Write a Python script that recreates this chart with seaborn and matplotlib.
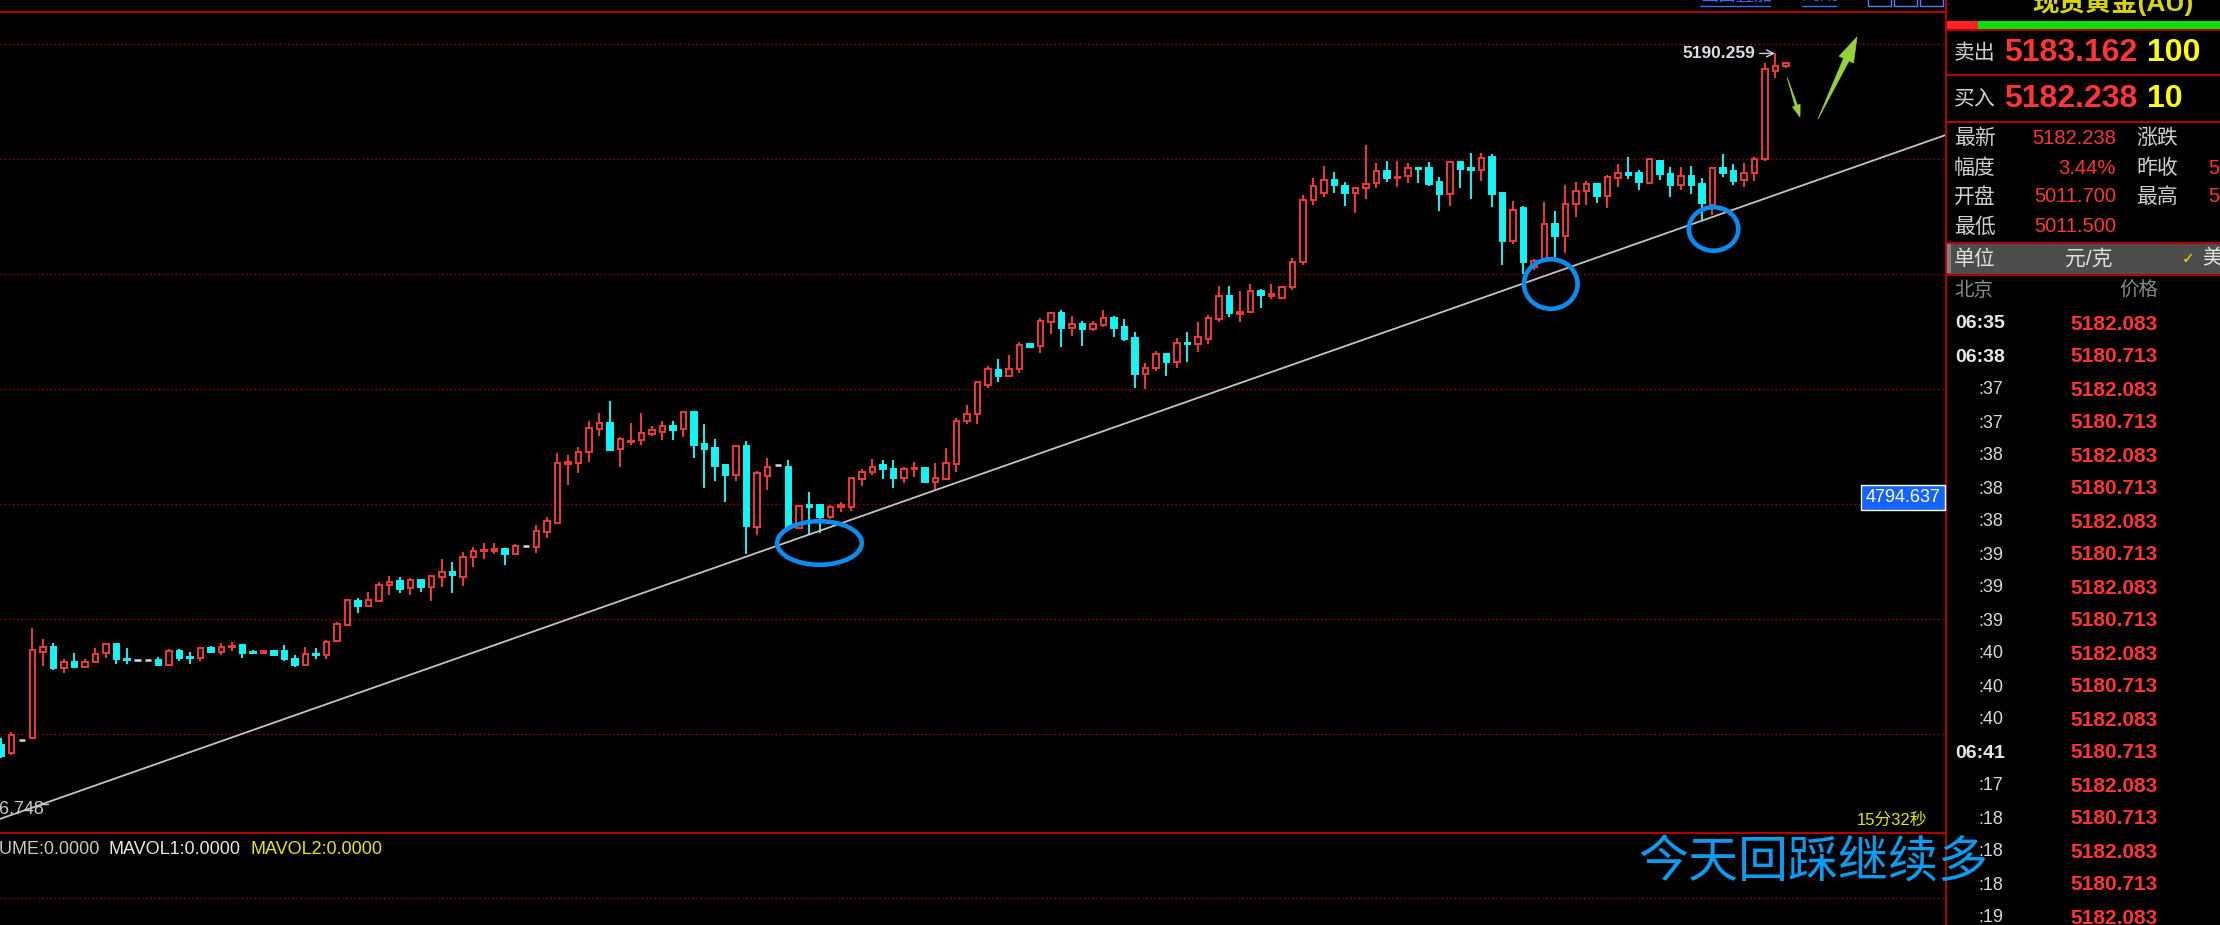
import numpy as np
import pandas as pd
import matplotlib
matplotlib.use("Agg")
import matplotlib.pyplot as plt
import seaborn as sns
from matplotlib.patches import Ellipse, Rectangle, Polygon

# ---------------- data ----------------
opens = [4583.0, 4576.0, 4587.4, 4589.2, 4664.7, 4669.1, 4650.7, 4655.9, 4651.5, 4655.9,
         4663.8, 4671.7, 4658.5, 4657.7, 4657.7, 4657.7, 4653.3, 4665.6, 4660.3, 4659.4,
         4668.2, 4664.7, 4669.1, 4670.8, 4664.7, 4663.8, 4665.6, 4665.6, 4658.5, 4653.3,
         4662.9, 4662.1, 4674.4, 4688.4, 4709.5, 4705.1, 4709.5, 4723.5, 4727.0, 4720.9,
         4727.9, 4721.8, 4730.5, 4734.9, 4730.5, 4748.1, 4753.4, 4753.4, 4755.1, 4750.7,
         4757.8, 4756.9, 4770.0, 4778.0, 4829.7, 4830.6, 4840.3, 4860.5, 4865.8, 4842.9,
         4849.1, 4850.8, 4856.1, 4857.9, 4863.2, 4860.5, 4875.4, 4847.3, 4843.8, 4828.9,
         4820.1, 4845.6, 4774.5, 4819.2, 4828.9, 4827.1, 4773.6, 4793.8, 4793.8, 4783.2,
         4792.0, 4792.0, 4816.6, 4822.8, 4828.9, 4825.3, 4817.5, 4825.3, 4826.3, 4813.9,
         4816.6, 4829.7, 4867.5, 4873.6, 4899.1, 4912.3, 4907.0, 4913.2, 4935.2, 4933.4,
         4954.4, 4962.3, 4949.1, 4952.7, 4948.3, 4951.8, 4958.0, 4950.0, 4940.4, 4908.8,
         4914.1, 4926.4, 4919.4, 4936.0, 4935.2, 4939.6, 4957.1, 4977.3, 4961.5, 4963.2,
         4981.6, 4977.3, 4975.5, 4985.1, 5007.1, 5061.6, 5067.6, 5079.1, 5073.8, 5067.6,
         5072.1, 5076.5, 5087.0, 5080.8, 5082.6, 5089.6, 5089.6, 5077.4, 5066.8, 5094.9,
         5089.6, 5087.9, 5099.3, 5067.6, 5025.6, 5054.5, 5002.7, 5008.9, 5040.5, 5030.0,
         5058.0, 5069.4, 5075.6, 5065.0, 5080.8, 5085.3, 5085.3, 5076.5, 5095.8, 5084.4,
         5074.7, 5082.6, 5075.6, 5057.2, 5089.6, 5087.0, 5079.1, 5085.3, 5097.5, 5174.8,
         5179.2]
highs = [4589.2, 4594.5, 4587.4, 4685.8, 4676.1, 4672.6, 4658.5, 4663.8, 4658.5, 4668.2,
         4671.7, 4671.7, 4668.2, 4657.7, 4657.7, 4660.3, 4667.3, 4667.3, 4664.7, 4669.1,
         4670.0, 4672.6, 4673.5, 4670.8, 4666.5, 4665.6, 4665.6, 4670.8, 4662.1, 4669.1,
         4668.2, 4675.2, 4691.0, 4711.2, 4712.1, 4717.4, 4726.2, 4731.4, 4730.5, 4729.6,
         4727.9, 4732.3, 4746.3, 4743.7, 4752.5, 4756.9, 4760.4, 4760.4, 4756.0, 4759.6,
         4757.8, 4776.2, 4783.2, 4839.4, 4837.7, 4844.7, 4867.5, 4874.5, 4885.1, 4853.5,
         4865.8, 4874.5, 4863.2, 4867.5, 4867.5, 4876.3, 4876.3, 4864.9, 4851.7, 4829.7,
         4845.6, 4850.0, 4823.6, 4835.0, 4828.9, 4833.3, 4792.9, 4805.2, 4793.8, 4793.8,
         4796.4, 4817.5, 4825.3, 4834.2, 4833.3, 4833.3, 4827.1, 4831.5, 4827.1, 4830.6,
         4843.8, 4870.2, 4881.6, 4902.6, 4915.8, 4922.0, 4925.5, 4936.9, 4935.2, 4958.0,
         4963.2, 4964.9, 4959.8, 4955.3, 4955.3, 4964.9, 4959.8, 4957.1, 4945.6, 4918.5,
         4929.0, 4926.4, 4940.4, 4945.6, 4954.4, 4960.6, 4986.0, 4986.0, 4981.6, 4987.8,
         4983.3, 4987.8, 4986.0, 5010.6, 5065.9, 5080.8, 5091.4, 5086.1, 5077.4, 5072.9,
         5109.8, 5094.0, 5095.8, 5095.8, 5094.0, 5090.5, 5094.9, 5081.7, 5094.9, 5094.9,
         5102.8, 5102.8, 5101.9, 5067.6, 5060.7, 5056.3, 5009.8, 5059.8, 5051.9, 5074.7,
         5077.4, 5078.2, 5076.5, 5083.5, 5093.2, 5099.3, 5087.9, 5098.4, 5096.7, 5090.5,
         5090.5, 5091.4, 5080.8, 5089.6, 5101.9, 5093.2, 5094.0, 5099.3, 5181.8, 5190.259,
         5182.2]
lows = [4571.6, 4574.3, 4587.4, 4589.2, 4652.4, 4648.9, 4646.3, 4650.7, 4650.7, 4655.9,
        4659.4, 4654.2, 4654.2, 4657.7, 4657.7, 4653.3, 4653.3, 4656.8, 4654.2, 4656.8,
        4664.7, 4662.1, 4665.6, 4659.4, 4663.8, 4663.8, 4662.1, 4656.8, 4651.5, 4653.3,
        4658.5, 4658.5, 4673.5, 4687.5, 4698.9, 4704.2, 4708.6, 4714.7, 4716.5, 4714.7,
        4717.4, 4709.5, 4721.8, 4716.5, 4722.6, 4739.3, 4746.3, 4750.7, 4741.0, 4749.9,
        4757.8, 4751.6, 4764.8, 4778.0, 4811.3, 4821.9, 4831.5, 4854.6, 4841.2, 4827.1,
        4846.5, 4846.5, 4854.6, 4850.8, 4850.8, 4853.5, 4835.0, 4808.7, 4814.8, 4796.4,
        4814.8, 4750.7, 4767.4, 4806.9, 4828.9, 4771.8, 4772.7, 4767.4, 4769.2, 4781.5,
        4787.6, 4788.5, 4810.4, 4820.1, 4816.6, 4808.7, 4813.1, 4818.3, 4813.9, 4806.1,
        4816.6, 4822.8, 4864.9, 4864.9, 4896.5, 4901.8, 4907.0, 4909.4, 4932.5, 4927.3,
        4943.9, 4932.5, 4942.2, 4933.4, 4946.5, 4950.0, 4941.4, 4937.8, 4896.5, 4895.6,
        4911.4, 4907.0, 4914.1, 4919.4, 4928.1, 4935.2, 4954.4, 4958.9, 4954.4, 4963.2,
        4966.7, 4974.6, 4975.5, 4982.5, 5004.5, 5057.2, 5064.2, 5067.6, 5056.3, 5050.2,
        5062.4, 5072.1, 5077.4, 5072.9, 5076.5, 5076.5, 5073.8, 5051.9, 5056.3, 5072.1,
        5062.4, 5078.2, 5055.4, 5004.5, 5022.9, 4996.6, 5000.1, 5007.1, 5011.5, 5015.0,
        5046.6, 5057.2, 5058.9, 5054.5, 5072.9, 5080.0, 5070.3, 5076.5, 5079.1, 5064.2,
        5070.3, 5066.8, 5044.0, 5048.4, 5081.7, 5074.7, 5072.9, 5078.2, 5095.8, 5168.7,
        5177.5]
closes = [4573.4, 4591.8, 4587.4, 4666.5, 4669.1, 4650.7, 4655.9, 4651.5, 4655.9, 4662.9,
          4671.7, 4658.5, 4657.7, 4657.7, 4657.7, 4653.3, 4665.6, 4659.4, 4659.4, 4668.2,
          4664.7, 4669.1, 4670.0, 4663.8, 4663.8, 4665.6, 4662.1, 4658.5, 4653.3, 4662.9,
          4662.1, 4673.5, 4689.3, 4710.4, 4705.1, 4710.4, 4723.5, 4726.2, 4720.0, 4727.9,
          4721.8, 4731.4, 4734.9, 4732.3, 4748.1, 4753.4, 4754.3, 4755.1, 4750.7, 4757.8,
          4757.8, 4770.9, 4779.7, 4830.6, 4831.5, 4840.3, 4861.4, 4865.8, 4842.1, 4851.7,
          4850.0, 4857.0, 4859.6, 4863.2, 4859.6, 4875.4, 4846.5, 4842.9, 4828.0, 4820.1,
          4845.6, 4775.3, 4821.9, 4827.1, 4828.9, 4773.6, 4792.9, 4792.0, 4783.2, 4792.0,
          4793.8, 4817.5, 4822.8, 4827.1, 4825.3, 4817.5, 4825.3, 4826.3, 4813.9, 4817.5,
          4830.6, 4867.5, 4873.6, 4901.8, 4913.2, 4907.0, 4913.2, 4934.2, 4932.5, 4955.3,
          4962.3, 4949.1, 4952.7, 4948.3, 4952.7, 4958.0, 4949.1, 4939.6, 4908.8, 4914.1,
          4926.4, 4919.4, 4936.0, 4935.2, 4941.4, 4958.0, 4977.3, 4962.3, 4963.2, 4981.6,
          4978.1, 4979.0, 4985.1, 5007.1, 5061.6, 5073.8, 5079.1, 5074.7, 5067.6, 5072.1,
          5075.6, 5087.0, 5080.8, 5081.7, 5089.6, 5088.8, 5075.6, 5066.8, 5094.9, 5088.8,
          5087.9, 5098.4, 5066.8, 5025.6, 5052.8, 5007.1, 5008.0, 5040.5, 5030.0, 5058.0,
          5069.4, 5075.6, 5065.0, 5081.7, 5085.3, 5083.5, 5077.4, 5097.5, 5084.4, 5074.7,
          5082.6, 5074.7, 5058.9, 5089.6, 5085.3, 5078.2, 5085.3, 5097.5, 5176.6, 5179.2,
          5182.2]

grid_levels = [4592.7, 4693.7, 4794.637, 4895.6, 4996.6, 5097.6, 5198.5]
trend_x = [-0.1, 185.2]
trend_y = [4518.1, 5118.6]
circle_x = [77.95, 147.6, 163.1]
circle_y = [4760.4, 4987.8, 5036.1]
label_min = "4526.748"
label_mark = "4794.637"

quote_title = "现货黄金(AU)"
sell_price, sell_vol = "5183.162", "100"
buy_price, buy_vol = "5182.238", "10"
info_left_labels = ["最新", "幅度", "开盘", "最低"]
info_left_values = ["5182.238", "3.44%", "5011.700", "5011.500"]
info_right_labels = ["涨跌", "昨收", "最高", ""]
info_right_values = ["", "5009.900", "5190.259", ""]
tick_times = ["06:35", "06:38", ":37", ":37", ":38", ":38", ":38", ":39", ":39", ":39",
              ":40", ":40", ":40", "06:41", ":17", ":18", ":18", ":18", ":19"]
tick_prices = ["5182.083", "5180.713"] * 9 + ["5182.083"]
vol_texts = ["VOLUME:0.0000", "MAVOL1:0.0000", "MAVOL2:0.0000"]
timer_text = "15分32秒"
note_text = "今天回踩继续多"

# ---------------- style ----------------
sns.set_style("dark", {"axes.facecolor": "black", "figure.facecolor": "black"})
plt.rcParams['font.family'] = ['Liberation Sans', 'Noto Sans CJK SC', 'DejaVu Sans']

RED = '#f03838'
CYAN = '#14f4f4'
GRAYC = '#d8d8d8'
LINE_RED = '#c80000'
DOT_RED = '#a00000'
TXT_RED = '#ff3434'

W, H = 2220, 925
fig = plt.figure(figsize=(W / 100, H / 100), dpi=100, facecolor='black')

# pixel layout of the price panel
P0, SLOPE = 5237.15, 0.878   # price at pixel row 0 and price per pixel
X0, DX = 1.0, 10.5           # pixel x of first candle and candle spacing
def price_at(py):
    return P0 - SLOPE * py

ax = fig.add_axes([0, 1 - 833 / H, 1946 / W, (833 - 12) / H])
ax.set_facecolor('black')

df = pd.DataFrame(dict(o=opens, h=highs, l=lows, c=closes))
df['x'] = np.arange(len(df))
up = df.c > df.o
dn = df.c < df.o
eq = df.c == df.o
wcol = np.where(up, RED, np.where(dn, CYAN, GRAYC))

for lv in grid_levels:
    ax.axhline(lv, color=DOT_RED, lw=1.0, ls=(0, (1, 2)), zorder=1)

ax.vlines(df.x, df.l, df.h, colors=wcol, lw=1.4, zorder=2)
ax.bar(df.x[up], (df.c - df.o)[up], bottom=df.o[up], width=0.5,
       facecolor='black', edgecolor=RED, linewidth=1.4, zorder=3)
ax.bar(df.x[dn], (df.o - df.c)[dn], bottom=df.c[dn], width=0.5,
       facecolor=CYAN, edgecolor=CYAN, linewidth=1.4, zorder=3)
ax.hlines(df.c[eq], df.x[eq] - 0.33, df.x[eq] + 0.33, colors=GRAYC, lw=1.8, zorder=3)

sns.lineplot(x=trend_x, y=trend_y, ax=ax, color='#c4c4c4', linewidth=1.3, zorder=4)

ell_w = [8.05, 5.1, 4.71]
ell_h = [38.2, 43.5, 38.2]
for cx, cy, ew, eh in zip(circle_x, circle_y, ell_w, ell_h):
    ax.add_patch(Ellipse((cx, cy), ew, eh, fill=False, edgecolor='#0a8cf0',
                         linewidth=3.3, zorder=6))

ihi = int(np.argmax(highs))
ax.annotate(f"{highs[ihi]:.3f}", xy=(df.x[ihi] - 0.05, highs[ihi]), xytext=(-20, 0),
            textcoords='offset pixels', ha='right', va='center', fontsize=12.5,
            fontweight='bold', color='#dcdce4',
            arrowprops=dict(arrowstyle='->', color='#d0d0d0', lw=1.0,
                            shrinkA=1, shrinkB=0), zorder=7)

ax.set_xlim((0 - X0) / DX, (1946 - X0) / DX)
ax.set_ylim(price_at(833), price_at(12))
ax.axis('off')

# ---------------- overlay in pixel coordinates ----------------
ov = fig.add_axes([0, 0, 1, 1], zorder=5)
ov.set_xlim(0, W)
ov.set_ylim(H, 0)
ov.axis('off')
ov.patch.set_alpha(0)

# frame lines
ov.plot([0, 1946], [12, 12], color=LINE_RED, lw=1.3)
ov.plot([0, 1946], [833, 833], color=LINE_RED, lw=1.3)
ov.plot([1946, 1946], [0, H], color=LINE_RED, lw=1.3)
ov.plot([0, 1946], [898, 898], color=DOT_RED, lw=1.0, ls=(0, (1, 2)))
for yy in [30, 75, 122, 243, 275]:
    ov.plot([1946, W], [yy, yy], color=LINE_RED, lw=1.3)

# top links (cut off)
ov.text(1700, 5, "画面叠加", color='#3c6cff', fontsize=13, va='bottom', ha='left')
ov.plot([1700, 1770], [6, 6], color='#3c6cff', lw=1)
ov.text(1802, 5, "周期", color='#3c6cff', fontsize=13, va='bottom', ha='left')
ov.plot([1802, 1836], [6, 6], color='#3c6cff', lw=1)
for bx in [1868, 1894, 1920]:
    ov.add_patch(Rectangle((bx, -10), 23, 16, fill=False, edgecolor='#5080ff', lw=1))

# min label on the left
ov.text(44, 809, label_min, ha='right', va='center', fontsize=13, color='#c8c8c8')
ov.plot([40, 48], [804, 804], color='#c8c8c8', lw=1)

# marker label
ov.add_patch(Rectangle((1861, 485), 84, 25, facecolor='#1464ff', edgecolor='white', lw=1, zorder=6))
ov.text(1903, 498, label_mark, ha='center', va='center', fontsize=13, color='white', zorder=7)

# green arrows
ov.add_patch(Polygon([(1787, 77), (1797.4, 105.2), (1800.1, 104.4), (1800, 117),
                      (1792.5, 106.8), (1795.2, 106.0)], closed=True,
                     facecolor='#96d23c', edgecolor='#96d23c', lw=0.5))
ov.add_patch(Polygon([(1818, 119), (1849.0, 60.9), (1853.5, 63.0), (1857, 37),
                      (1839.1, 56.2), (1843.6, 58.3)], closed=True,
                     facecolor='#96d23c', edgecolor='#96d23c', lw=0.5))

# timer
ov.text(1927, 820, timer_text, ha='right', va='center', fontsize=12, color='#e6e600')

# volume texts
ov.text(100, 850, vol_texts[0], ha='right', va='center', fontsize=13, color='#c8c8c8')
ov.text(108, 850, vol_texts[1], ha='left', va='center', fontsize=13, color='#e8e8e8')
ov.text(250, 850, vol_texts[2], ha='left', va='center', fontsize=13, color='#e6e600')

# right quote panel
ov.text(2032, 2, quote_title, ha='left', va='center', fontsize=19, fontweight='bold', color='#d8d800')
ov.add_patch(Rectangle((1947, 21), 31, 8, facecolor='#ff2424', edgecolor='none'))
ov.add_patch(Rectangle((1978, 21), 242, 8, facecolor='#10dc10', edgecolor='none'))

ov.text(1954, 53, "卖出", ha='left', va='center', fontsize=15, color='#d0d0d0')
ov.text(2004, 53, sell_price, ha='left', va='center', fontsize=23, fontweight='bold', color=TXT_RED)
ov.text(2147, 53, sell_vol, ha='left', va='center', fontsize=23, fontweight='bold', color='#ffff00')
ov.text(1954, 99, "买入", ha='left', va='center', fontsize=15, color='#d0d0d0')
ov.text(2004, 99, buy_price, ha='left', va='center', fontsize=23, fontweight='bold', color=TXT_RED)
ov.text(2147, 99, buy_vol, ha='left', va='center', fontsize=23, fontweight='bold', color='#ffff00')

for i, yy in enumerate([138, 168, 197, 227]):
    ov.text(1954, yy, info_left_labels[i], ha='left', va='center', fontsize=15, color='#d0d0d0')
    ov.text(2116, yy, info_left_values[i], ha='right', va='center', fontsize=14.5, color=TXT_RED)
    if info_right_labels[i]:
        ov.text(2136, yy, info_right_labels[i], ha='left', va='center', fontsize=15, color='#d0d0d0')
    if info_right_values[i]:
        ov.text(2208, yy, info_right_values[i], ha='left', va='center', fontsize=14.5, color=TXT_RED)

ov.add_patch(Rectangle((1947, 244), 273, 30, facecolor='#4d4d4d', edgecolor='none'))
ov.add_patch(Rectangle((1946, 243), 5, 30, facecolor='#808080', edgecolor='none'))
ov.text(1954, 259, "单位", ha='left', va='center', fontsize=15, color='#e0e0e0')
ov.text(2089, 259, "元/克", ha='center', va='center', fontsize=15, color='#e0e0e0')
ov.text(2182, 259, "✓", ha='left', va='center', fontsize=11, color='#f0e000', family=['DejaVu Sans'])
ov.text(2202, 259, "美", ha='left', va='center', fontsize=15, color='#e0e0e0')

ov.text(1954, 291, "北京", ha='left', va='center', fontsize=14, color='#8a8a8a')
ov.text(2158, 291, "价格", ha='right', va='center', fontsize=14, color='#8a8a8a')
for i, (t, p) in enumerate(zip(tick_times, tick_prices)):
    yy = 324 + 33 * i
    if t.startswith('0'):
        ov.text(1955, yy, t, ha='left', va='center', fontsize=14, fontweight='bold', color='#e8e8e8')
    else:
        ov.text(2003, yy, t, ha='right', va='center', fontsize=13, color='#d8d8d8')
    ov.text(2158, yy, p, ha='right', va='center', fontsize=15, fontweight='bold', color=TXT_RED)

# big note text on top
ov.text(1638, 864, note_text, ha='left', va='center', fontsize=36, color='#0a9cf0',
        family=['Noto Sans CJK SC', 'DejaVu Sans'], zorder=10)

fig.savefig("out.png", dpi=100, facecolor='black')
